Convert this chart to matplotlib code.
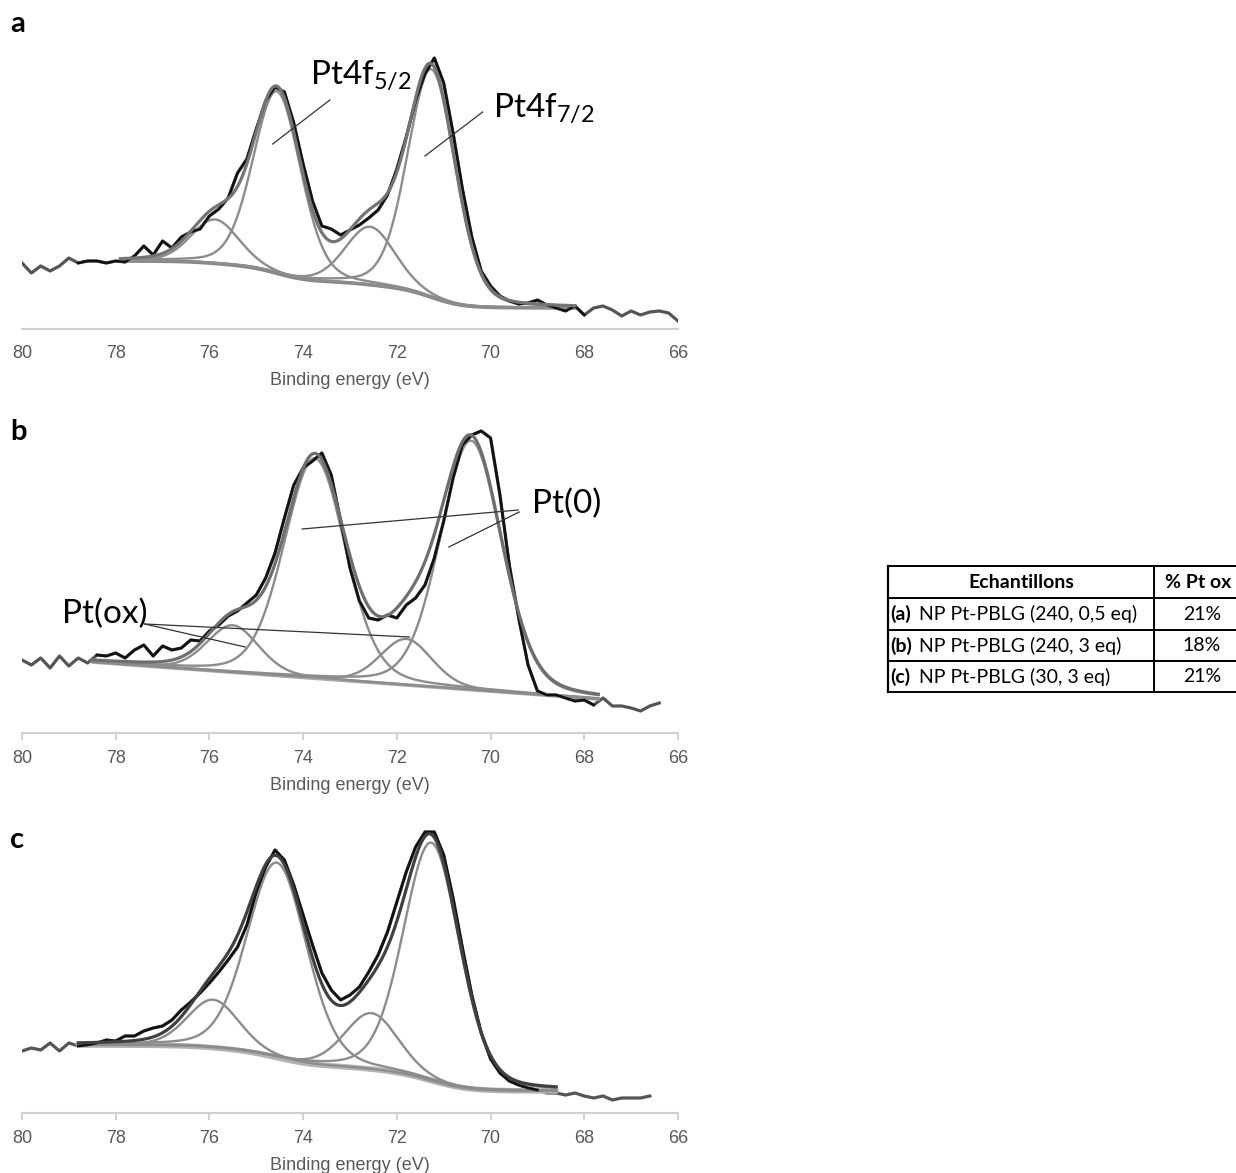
import numpy as np
import matplotlib.pyplot as plt

W, H = 1236, 1173
plt.rcParams['font.family'] = ['Lato', 'DejaVu Sans']
plt.rcParams['mathtext.default'] = 'regular'

# measured spectra, 0.2 eV sampling, from 80 eV downwards
step = 0.2
counts_a = [66, 56, 63, 58, 63, 71, 66, 68, 68, 66,
            68, 67, 73, 83, 74, 88, 81, 92, 97, 100,
            113, 120, 131, 156, 170, 200, 228, 242, 237, 206,
            165, 128, 103, 100, 94, 99, 104, 111, 119, 134,
            160, 192, 228, 255, 271, 246, 196, 140, 92, 58,
            43, 33, 28, 25, 26, 29, 24, 21, 18, 23,
            14, 21, 23, 19, 13, 18, 14, 17, 18, 16, 8]
counts_b = [73, 68, 75, 65, 77, 67, 75, 70, 78, 77,
            80, 75, 83, 88, 77, 87, 83, 85, 93, 92,
            102, 108, 117, 122, 130, 138, 155, 180, 215, 248,
            265, 272, 280, 258, 212, 165, 132, 115, 113, 118,
            115, 128, 135, 148, 175, 212, 255, 288, 298, 302,
            295, 238, 168, 115, 68, 42, 38, 38, 35, 32,
            33, 28, 35, 27, 27, 25, 22, 27, 30]
counts_c = [62, 65, 63, 70, 62, 70, 67, 68, 70, 73,
            72, 77, 77, 82, 85, 87, 93, 103, 111, 120,
            130, 141, 153, 166, 188, 221, 246, 263, 253, 228,
            198, 168, 140, 123, 113, 118, 126, 141, 158, 181,
            211, 241, 266, 281, 281, 258, 215, 165, 118, 80,
            54, 40, 32, 28, 25, 23, 20, 20, 18, 20,
            17, 15, 17, 13, 15, 15, 15, 17]

# fitted components: Pt4f7/2, Pt4f5/2 (metal), then the two oxidised ones
centers_a = [71.26, 74.56, 72.57, 75.88]
heights_a = [228, 182, 58, 44]
fwhm_a = [1.2, 1.2, 1.25, 1.2]
centers_b = [70.42, 73.75, 71.8, 75.5]
heights_b = [249, 220, 46, 47]
fwhm_b = [1.55, 1.55, 1.3, 1.3]
centers_c = [71.26, 74.56, 72.54, 75.92]
heights_c = [238, 195, 56, 48]
fwhm_c = [1.42, 1.5, 1.35, 1.3]

# background levels (low BE side, high BE side) and fit windows (eV)
bg_a = [21, 68]
bg_b = [34, 71]
bg_c = [22, 68]
window_a = [68.2, 77.9]
window_b = [67.7, 78.5]
window_c = [68.6, 78.8]
black_a = [68.0, 78.8]
black_b = [67.8, 78.4]
black_c = [69.0, 78.8]

ticks = [80, 78, 76, 74, 72, 70, 68, 66]

samples = ['NP Pt-PBLG (240, 0,5 eq)', 'NP Pt-PBLG (240, 3 eq)', 'NP Pt-PBLG (30, 3 eq)']
sample_tags = ['(a)', '(b)', '(c)']
pt_ox = [21, 18, 21]


def pseudo_voigt(x, c, h, w, eta=0.2):
    u = (x - c) / w
    return h * ((1 - eta) * np.exp(-4 * np.log(2) * u ** 2) + eta / (1 + 4 * u ** 2))


fig = plt.figure(figsize=(W / 100, H / 100), dpi=100)


def panel(axis_y, height, counts, centers, heights, widths, bg_lv, window, black,
          shirley, bg_col, bg_lw, env_col, tick_len):
    ax = fig.add_axes([22 / W, 1 - axis_y / H, 656 / W, height / H])
    energy = np.round(80.0 - step * np.arange(len(counts)), 1)
    counts = np.array(counts)
    x = np.linspace(window[0], window[1], 600)
    peaks = [pseudo_voigt(x, c, h, w) for c, h, w in zip(centers, heights, widths)]
    total = np.sum(peaks, axis=0)
    if shirley:
        cum = np.concatenate([[0], np.cumsum((total[1:] + total[:-1]) / 2 * np.diff(x))])
        bg = bg_lv[0] + (bg_lv[1] - bg_lv[0]) * cum / cum[-1]
    else:
        bg = bg_lv[0] + (bg_lv[1] - bg_lv[0]) * (x - x[0]) / (x[-1] - x[0])

    ax.plot(energy, counts, color='#555555', lw=2.3, zorder=1)
    ax.plot(x, bg, color=bg_col, lw=bg_lw, zorder=2, solid_capstyle='round')
    for p in peaks:
        ax.plot(x, p + bg, color='#8c8c8c', lw=1.7, zorder=3)
    m = (energy >= black[0]) & (energy <= black[1])
    ax.plot(energy[m], counts[m], color='#111111', lw=1.9, zorder=4)
    ax.plot(x, total + bg, color=env_col, lw=2.3, zorder=5)

    ax.set_xlim(80, 66)
    ax.set_ylim(0, height)
    for s in ['top', 'left', 'right']:
        ax.spines[s].set_visible(False)
    ax.spines['bottom'].set_color('#d0d0d0')
    ax.spines['bottom'].set_linewidth(1.5)
    ax.set_yticks([])
    ax.set_xticks(ticks)
    ax.tick_params(axis='x', length=tick_len, width=1.2, color='#c8c8c8',
                   labelcolor='#595959', labelsize=13,
                   pad=11.5 if tick_len == 0 else 7.5)
    for lab in ax.get_xticklabels():
        lab.set_family('Liberation Sans')
    ax.set_xlabel('Binding energy (eV)', color='#595959', fontsize=13,
                  family='Liberation Sans', labelpad=7)
    ax.patch.set_alpha(0)
    return ax


ax_a = panel(329, 290, counts_a, centers_a, heights_a, fwhm_a, bg_a, window_a, black_a,
             True, '#858585', 2.6, '#747474', 0)
ax_b = panel(733, 315, counts_b, centers_b, heights_b, fwhm_b, bg_b, window_b, black_b,
             False, '#a8a8a8', 2.6, '#6e6e6e', 5)
ax_c = panel(1113, 300, counts_c, centers_c, heights_c, fwhm_c, bg_c, window_c, black_c,
             True, '#b3b3b3', 4.0, '#404040', 5)

lbl = dict(fontsize=24, color='black', va='baseline')
ln = dict(color='#333333', lw=0.9, clip_on=False, zorder=6)
ax_a.text(73.85, 245, 'Pt4f$_{5/2}$', **lbl)
ax_a.plot([73.43, 74.65], [229, 185], **ln)
ax_a.text(69.94, 212, 'Pt4f$_{7/2}$', **lbl)
ax_a.plot([70.17, 71.40], [217, 173], **ln)

ax_b.text(69.12, 220, 'Pt(0)', **lbl)
ax_b.plot([69.41, 74.02], [223, 204], **ln)
ax_b.plot([69.39, 70.89], [221, 186], **ln)
ax_b.text(79.15, 110, 'Pt(ox)', **lbl)
ax_b.plot([77.38, 71.73], [109, 96], **ln)
ax_b.plot([77.38, 75.24], [109, 86], **ln)

# overlay in pixel units for panel letters and the table
ov = fig.add_axes([0, 0, 1, 1])
ov.set_xlim(0, W)
ov.set_ylim(H, 0)
ov.axis('off')
for letter, y in zip(['a', 'b', 'c'], [32, 440, 848]):
    ov.text(10, y, letter, fontsize=21, fontweight='bold', va='baseline')

rows = [566, 598, 630, 661, 692]
left, mid, right = 888, 1154, 1260
for y in rows:
    ov.plot([left, right], [y, y], color='black', lw=1.4)
ov.plot([left, left], [rows[0], rows[-1]], color='black', lw=1.6)
ov.plot([mid, mid], [rows[0], rows[-1]], color='black', lw=1.4)
fs = 14
ov.text(1021, (rows[0] + rows[1]) / 2, 'Echantillons', fontsize=fs, fontweight='bold',
        ha='center', va='center')
ov.text(1198, (rows[0] + rows[1]) / 2, '% Pt ox', fontsize=fs, fontweight='bold',
        ha='center', va='center')
for i, (tag, name, val) in enumerate(zip(sample_tags, samples, pt_ox)):
    yc = (rows[i + 1] + rows[i + 2]) / 2
    ov.text(890, yc, tag, fontsize=fs, fontweight='bold', va='center')
    ov.text(919, yc, name, fontsize=fs, va='center')
    ov.text(1202, yc, f'{val}%', fontsize=fs, ha='center', va='center')

fig.savefig('out.png', dpi=100)
